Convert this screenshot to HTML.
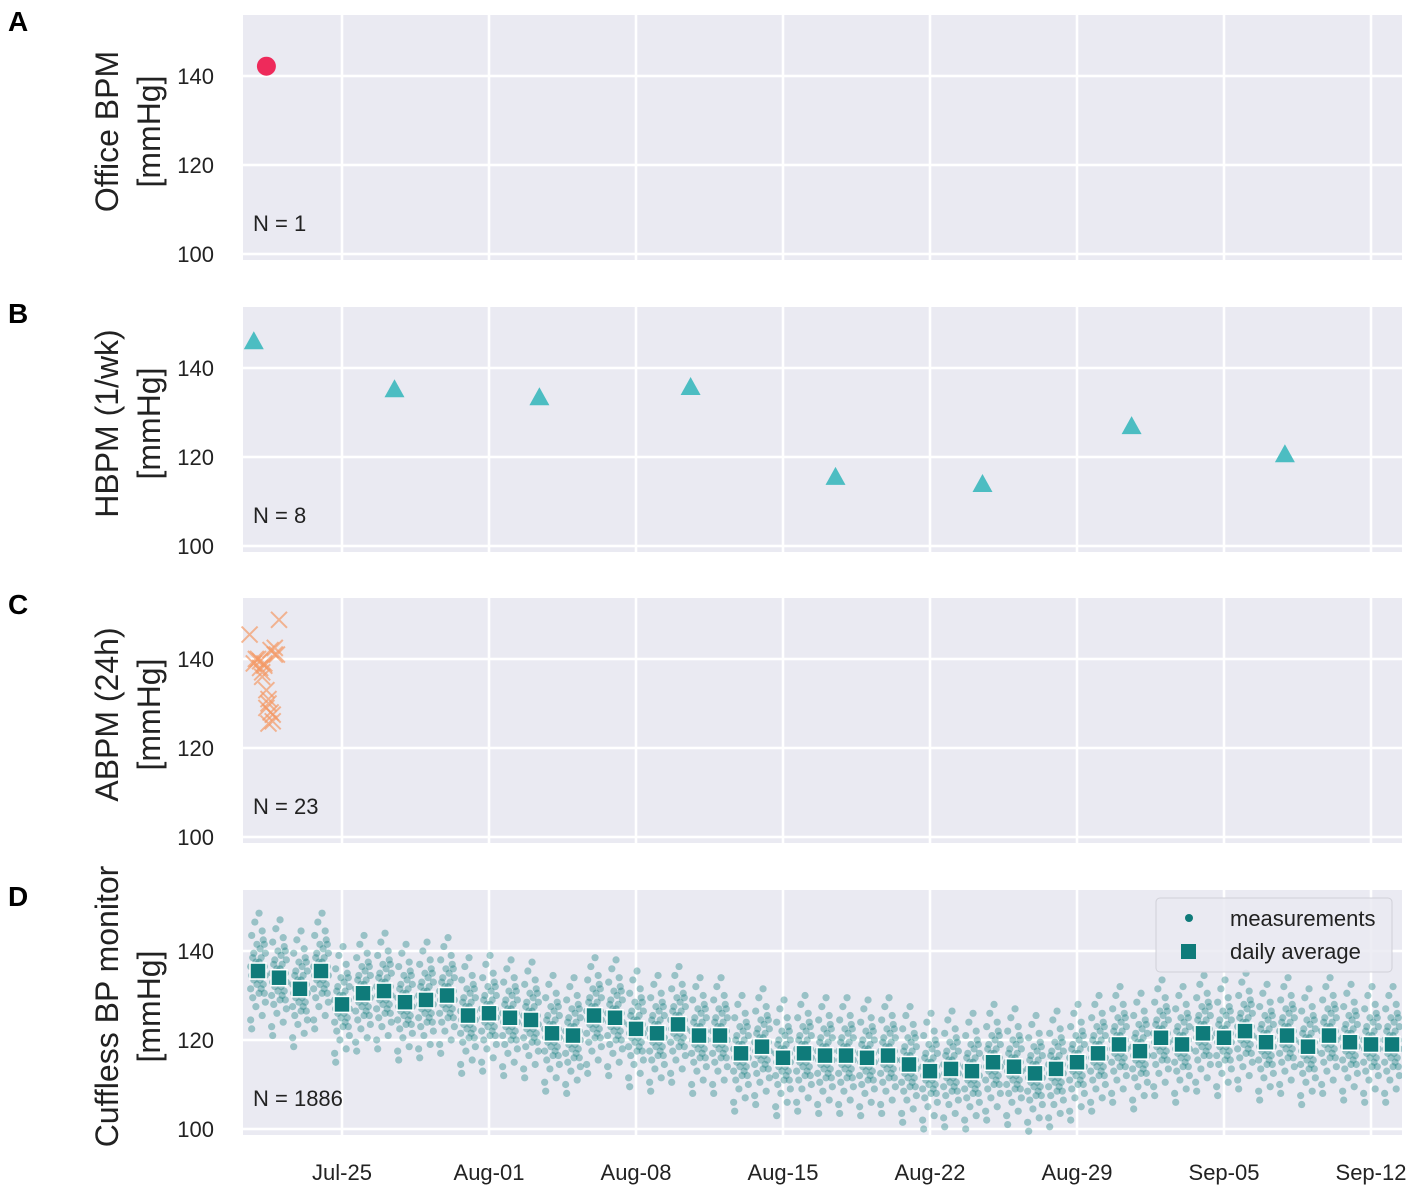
<!DOCTYPE html>
<html><head><meta charset="utf-8"><style>
body{margin:0;background:#fff;}
svg{display:block;font-family:"Liberation Sans",sans-serif;}
</style></head><body>
<svg id="c" width="1417" height="1197"></svg>
<script>
// ---- data (x in days relative to Jul-25) ----
const tickLabels=["Jul-25","Aug-01","Aug-08","Aug-15","Aug-22","Aug-29","Sep-05","Sep-12"];
const tickDays=[0,7,14,21,28,35,42,49];
const officeDays=[-3.6];
const officeVals=[142.2];
const hbpmDays=[-4.2,2.5,9.4,16.6,23.5,30.5,37.6,44.9];
const hbpmVals=[145.8,135,133.2,135.5,115.3,113.7,126.7,120.4];
const abpmDays=[-4.4,-4.2,-4.0,-3.9,-3.8,-3.6,-3.5,-3.4,-3.3,-3.2,-3.1,-3.0,-4.1,-3.7,-3.9,-3.5,-3.3,-3.6,-3.8,-3.4,-3.2,-3.7,-3.5];
const abpmVals=[145.5,139,140,138,137,133,131,128,126,142.5,141,148.8,140,138.5,139.5,130,127.5,129,136,142,141,139,125.5];
const avgDays=[];for(let i=0;i<55;i++)avgDays.push(-4+i);
const avgVals=[135.5,134,131.5,135.5,128,130.5,131,128.5,129,130,125.5,126,125,124.5,121.5,121,125.5,125,122.5,121.5,123.5,121,121,117,118.5,116,117,116.5,116.5,116,116.5,114.5,113,113.5,113,115,114,112.5,113.5,115,117,119,117.5,120.5,119,121.5,120.5,122,119.5,121,118.5,121,119.5,119,119];
const measOffsets=[-13,-10,-8,-7,-6,-5,-5,-4,-4,-3,-3,-2,-2,-1,-1,0,0,0,1,1,2,2,3,3,4,4,5,6,7,8,9,11,13,-11,6];
const measJitter=[-0.3,0.2,-0.1,0.35,-0.25,0.05,0.3,-0.35,0.15,-0.05,0.25,-0.2,0.1,-0.3,0.35,0,-0.15,0.2,-0.35,0.3,-0.1,0.05,-0.25,0.15,0.35,-0.2,0.1,-0.05,0.25,-0.3,0.2,-0.15,0.05,-0.35,0.3];
// ---- layout ----
const NS="http://www.w3.org/2000/svg";
const svg=document.getElementById('c');
const X0=243,X1=1402;
const dayPx=21.0, day0X=342;
const xs=d=>day0X+d*dayPx;
const panels=[{top:15,letter:"A",l1:"Office BPM"},{top:307,letter:"B",l1:"HBPM (1/wk)"},{top:598,letter:"C",l1:"ABPM (24h)"},{top:890,letter:"D",l1:"Cuffless BP monitor"}];
const PH=245, pxU=4.45;
function mk(tag,attrs,parent){const e=document.createElementNS(NS,tag);for(const k in attrs)e.setAttribute(k,attrs[k]);(parent||svg).appendChild(e);return e;}
function ysFor(p){const y100=p.top+239;return v=>y100-(v-100)*pxU;}
panels.forEach((p,i)=>{
  const g=mk('g',{});
  
  
  const ys=ysFor(p);
  const bg=mk('rect',{x:X0,y:p.top,width:X1-X0,height:PH,fill:'#eaeaf2'},g);
  
  [100,120,140].forEach(v=>{
    const l=mk('line',{x1:X0,x2:X1,y1:ys(v),y2:ys(v),stroke:'#fff','stroke-width':2.5},g);
    
    const t=mk('text',{x:214,y:ys(v)+8,'text-anchor':'end','font-size':22,fill:'#222'},g);
    t.textContent=v;
  });
  tickDays.forEach((d,k)=>{
    const l=mk('line',{x1:xs(d),x2:xs(d),y1:p.top,y2:p.top+PH,stroke:'#fff','stroke-width':2.5},g);
    
    if(i===3){const t=mk('text',{x:xs(d),y:1180,'text-anchor':'middle','font-size':22,fill:'#222'},g);
      t.textContent=tickLabels[k];}
  });
  const L=mk('text',{x:8,y:p.top+16,'font-size':28,'font-weight':'bold',fill:'#000'},g);
  L.textContent=p.letter;
  const cy=p.top+PH/2-6;
  const t1=mk('text',{x:118,y:cy,'text-anchor':'middle','font-size':32,fill:'#222',transform:`rotate(-90 118 ${cy})`},g);
  t1.textContent=p.l1;
  const t2=mk('text',{x:160,y:cy,'text-anchor':'middle','font-size':32,fill:'#222',transform:`rotate(-90 160 ${cy})`},g);
  t2.textContent='[mmHg]';
  const n=mk('text',{x:253,y:p.top+216,'font-size':22,fill:'#222'},g);
  n.textContent=['N = 1','N = 8','N = 23','N = 1886'][i];
  p.g=g;p.ys=ys;
});
// A
officeDays.forEach((d,i)=>{const c=mk('circle',{cx:xs(d),cy:panels[0].ys(officeVals[i]),r:9.5,fill:'#ee2a5b'},panels[0].g);
});
// B
hbpmDays.forEach((d,i)=>{const x=xs(d),y=panels[1].ys(hbpmVals[i]);
const t=mk('polygon',{points:`${x},${y-11} ${x-10},${y+7} ${x+10},${y+7}`,fill:'#4cbdc2'},panels[1].g);
});
// C
abpmDays.forEach((d,i)=>{const x=xs(d),y=panels[2].ys(abpmVals[i]);
const m=mk('path',{d:`M${x-8} ${y-8}L${x+8} ${y+8}M${x-8} ${y+8}L${x+8} ${y-8}`,stroke:'#f49a66','stroke-width':2,'stroke-opacity':0.7,fill:'none'},panels[2].g);
});
// D
const pd=panels[3];
const clip=mk('clipPath',{id:'cd'});mk('rect',{x:X0,y:pd.top,width:X1-X0,height:PH},clip);
const mg=mk('g',{'clip-path':'url(#cd)'},pd.g);
avgDays.forEach((d,i)=>{measOffsets.forEach((o,k)=>{
  const c=mk('circle',{cx:xs(d+measJitter[k]),cy:pd.ys(avgVals[i]+o),r:3.6,fill:'#137f7d','fill-opacity':0.38},mg);
  });});
avgDays.forEach((d,i)=>{const x=xs(d),y=pd.ys(avgVals[i]);
  const s=mk('rect',{x:x-8,y:y-8,width:16,height:16,fill:'#0f7b7a',stroke:'#fff','stroke-width':1.5},mg);
  });
// legend
const lg=mk('g',{},pd.g);
mk('rect',{x:1156,y:898,width:236,height:74,rx:4,fill:'#eaeaf2','fill-opacity':0.85,stroke:'#d0d0d8'},lg);
mk('circle',{cx:1189,cy:918,r:4,fill:'#0f7b7a'},lg);
mk('rect',{x:1181,y:944,width:15,height:15,fill:'#0f7b7a'},lg);
const a=mk('text',{x:1230,y:926,'font-size':22,fill:'#222'},lg);a.textContent='measurements';

const b=mk('text',{x:1230,y:959,'font-size':22,fill:'#222'},lg);b.textContent='daily average';

</script>
</body></html>
